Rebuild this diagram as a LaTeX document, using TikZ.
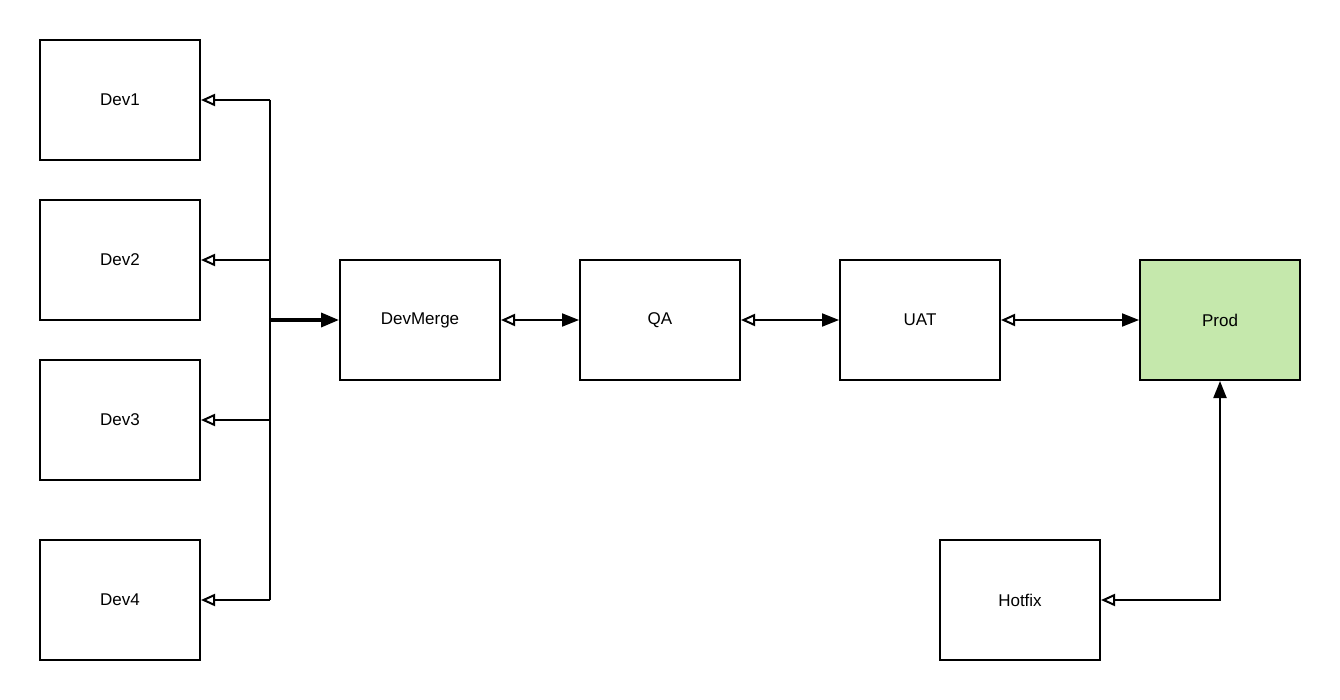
\documentclass[tikz,border=0pt]{standalone}
\usepackage{fontspec}
\setmainfont{Liberation Sans}
\usetikzlibrary{arrows.meta}
\definecolor{prodgreen}{HTML}{C5E8AC}
\begin{document}
\begin{tikzpicture}[x=1pt,y=-1pt,
  box/.style={draw=black, line width=2pt, fill=white, minimum width=160pt, minimum height=120pt,
              inner sep=0pt, font=\fontsize{17}{20}\selectfont},
  link/.style={line width=2pt},
  both/.style={link, {Triangle[open,length=14pt,width=12pt,line width=2pt]}-{Triangle[length=17pt,width=13pt]}},
  toopen/.style={link, -{Triangle[open,length=14pt,width=12pt,line width=2pt]}}]
  \useasboundingbox (0,0) rectangle (1340,700);

  % environment boxes
  \node[box] (dev1) at (120,100) {Dev1};
  \node[box] (dev2) at (120,260) {Dev2};
  \node[box] (dev3) at (120,420) {Dev3};
  \node[box] (dev4) at (120,600) {Dev4};
  \node[box] (merge) at (420,320) {DevMerge};
  \node[box] (qa) at (660,320) {QA};
  \node[box] (uat) at (920,320) {UAT};
  \node[box, fill=prodgreen] (prod) at (1220,320) {Prod};
  \node[box] (hotfix) at (1020,600) {Hotfix};

  % branch bus feeding the dev boxes
  \coordinate (b1) at (270,100);
  \coordinate (b2) at (270,260);
  \coordinate (bm) at (270,320);
  \coordinate (b3) at (270,420);
  \coordinate (b4) at (270,600);
  \draw[link] (b1) -- (b4);
  \draw[toopen] (b1) -- (dev1.east);
  \draw[toopen] (b2) -- (dev2.east);
  \draw[toopen] (b3) -- (dev3.east);
  \draw[toopen] (b4) -- (dev4.east);
  \draw[line width=3.5pt, -{Triangle[length=18pt,width=14pt]}] (bm) -- (merge.west);

  % promotion chain
  \draw[both] (merge.east) -- (qa.west);
  \draw[both] (qa.east) -- (uat.west);
  \draw[both] (uat.east) -- (prod.west);

  % hotfix route
  \draw[both] (hotfix.east) -| (prod.south);
\end{tikzpicture}
\end{document}
